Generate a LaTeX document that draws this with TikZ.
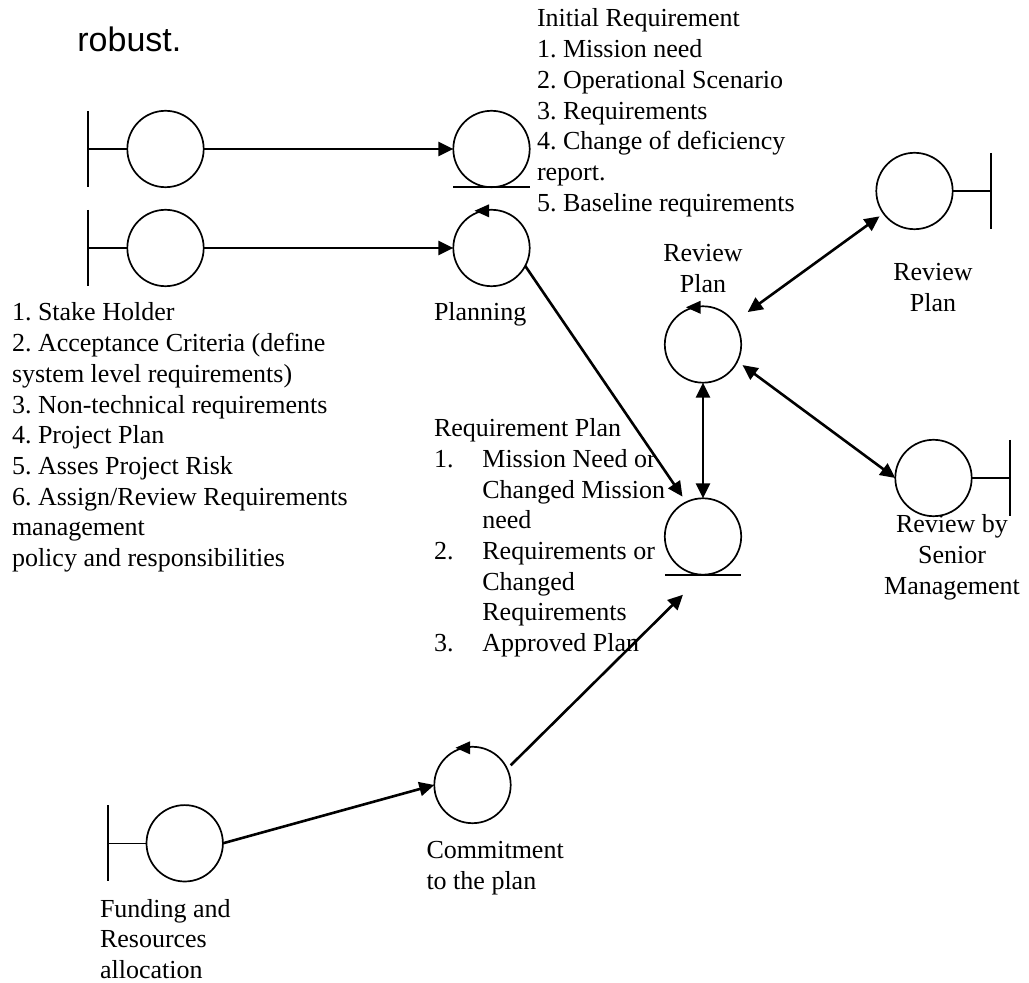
\documentclass[tikz,border=0pt]{standalone}
\usepackage{fontspec}
\setmainfont{Liberation Serif}
\newfontfamily\headsans{Liberation Sans}
\usetikzlibrary{arrows.meta,calc}
\frenchspacing
% body text of the diagram
\newcommand\dgfont{\fontsize{13}{15.35}\selectfont}
% small left-pointing arrowhead sitting on top of a control circle
\newcommand\ctrlmark[1]{\fill ($(#1.north)+(-17,1)$) -- ++(14.5,-6.5) -- ++(0,13) -- cycle;}
% boundary bar on the left / right of an actor circle
\newcommand\barleft[1]{\draw[stub] (#1.west) -- ++(-39,0) coordinate (#1-b);
  \draw[bar] ($(#1-b)+(0,-38)$) -- ($(#1-b)+(0,38)$);}
\newcommand\barright[1]{\draw[stub] (#1.east) -- ++(38,0) coordinate (#1-b);
  \draw[bar] ($(#1-b)+(0,-38)$) -- ($(#1-b)+(0,38)$);}
% ground line under an entity circle
\newcommand\entline[1]{\draw[line width=0.85pt] (#1.west |- #1.south) -- (#1.east |- #1.south);}
\newcommand\itm[1]{\makebox[24.2pt][l]{#1}}
\begin{document}
\begin{tikzpicture}[x=0.5pt,y=-0.5pt,
  obj/.style={circle,draw,line width=0.85pt,minimum size=38.2pt,inner sep=0pt,outer sep=0pt},
  flow/.style={line width=1.3pt,-{Triangle[length=7.5pt,width=7pt]}},
  flowboth/.style={line width=1.3pt,{Triangle[length=7.5pt,width=7pt]}-{Triangle[length=7.5pt,width=7pt]}},
  bar/.style={line width=1pt},
  stub/.style={line width=0.65pt},
  txt/.style={inner sep=0pt,outer sep=0pt,font=\dgfont},
]
\useasboundingbox (0,0) rectangle (1029,983);

% heading fragment
\node[inner sep=0pt,anchor=base west,font=\headsans\fontsize{17}{20}\selectfont] (rb) at (77,52) {robust.};

% objects
\node[obj] (s1) at (165.5,149) {};
\node[obj] (s2) at (165.5,248) {};
\node[obj] (ir) at (491.5,149) {};
\node[obj] (plan) at (491.5,248) {};
\node[obj] (rev) at (703,344.5) {};
\node[obj] (rp) at (703,536.5) {};
\node[obj] (tr) at (914.5,191) {};
\node[obj] (sm) at (933.5,478) {};
\node[obj] (com) at (472.5,785) {};
\node[obj] (fund) at (184.7,843.3) {};

% actor bars
\barleft{s1}
\barleft{s2}
\barleft{fund}
\barright{tr}
\barright{sm}

% entity lines
\entline{ir}
\entline{rp}

% control marks
\ctrlmark{plan}
\ctrlmark{rev}
\ctrlmark{com}

% connectors
\draw[flow] (s1) -- (ir);
\draw[flow] (s2) -- (plan);
\draw[flow,shorten >=3.35pt] (plan.-28) -- (rp.116);
\draw[flowboth] (rev) -- (rp);
\draw[flowboth,shorten <=8.5pt,shorten >=2.5pt] (rev) -- (tr);
\draw[flowboth,shorten <=3.25pt] (rev.-26) -- (sm.west);
\draw[flow] (fund.east) -- (com.west);
\draw[flow,shorten <=2.5pt] (com.25) -- ($(rp.south)+(-20,20)$);

% texts
\node[txt,anchor=base west] (irtxt) at (537,27) {\begin{tabular}[t]{@{}l@{}}
Initial Requirement\\
1. Mission need\\
2. Operational Scenario\\
3. Requirements\\
4. Change of deficiency\\
report.\\
5. Baseline requirements
\end{tabular}};

\node[txt,anchor=base west] (shtxt) at (12,321) {\begin{tabular}[t]{@{}l@{}}
1. Stake Holder\\
2. Acceptance Criteria (define\\
system level requirements)\\
3. Non-technical requirements\\
4. Project Plan\\
5. Asses Project Risk\\
6. Assign/Review Requirements\\
management\\
policy and responsibilities
\end{tabular}};

\node[txt,anchor=base west] (plantxt) at (434,321) {Planning};

\node[txt,anchor=base] (revtxt) at (703,262) {\begin{tabular}[t]{@{}c@{}}Review\\Plan\end{tabular}};
\node[txt,anchor=base] (trtxt) at (933,281) {\begin{tabular}[t]{@{}c@{}}Review\\Plan\end{tabular}};
\node[txt,anchor=base] (smtxt) at (952,533) {\begin{tabular}[t]{@{}c@{}}Review by\\Senior\\Management\end{tabular}};

\node[txt,anchor=base west] (rptxt) at (434,436.7) {\begin{tabular}[t]{@{}l@{}}
Requirement Plan\\
\itm{1.}Mission Need or\\
\itm{}Changed Mission\\
\itm{}need\\
\itm{2.}Requirements or\\
\itm{}Changed\\
\itm{}Requirements\\
\itm{3.}Approved Plan
\end{tabular}};

\node[txt,anchor=base west] (comtxt) at (426.5,859) {\begin{tabular}[t]{@{}l@{}}Commitment\\to the plan\end{tabular}};
\node[txt,anchor=base west] (fundtxt) at (100,917) {\begin{tabular}[t]{@{}l@{}}Funding and\\Resources\\allocation\end{tabular}};
\end{tikzpicture}
\end{document}
